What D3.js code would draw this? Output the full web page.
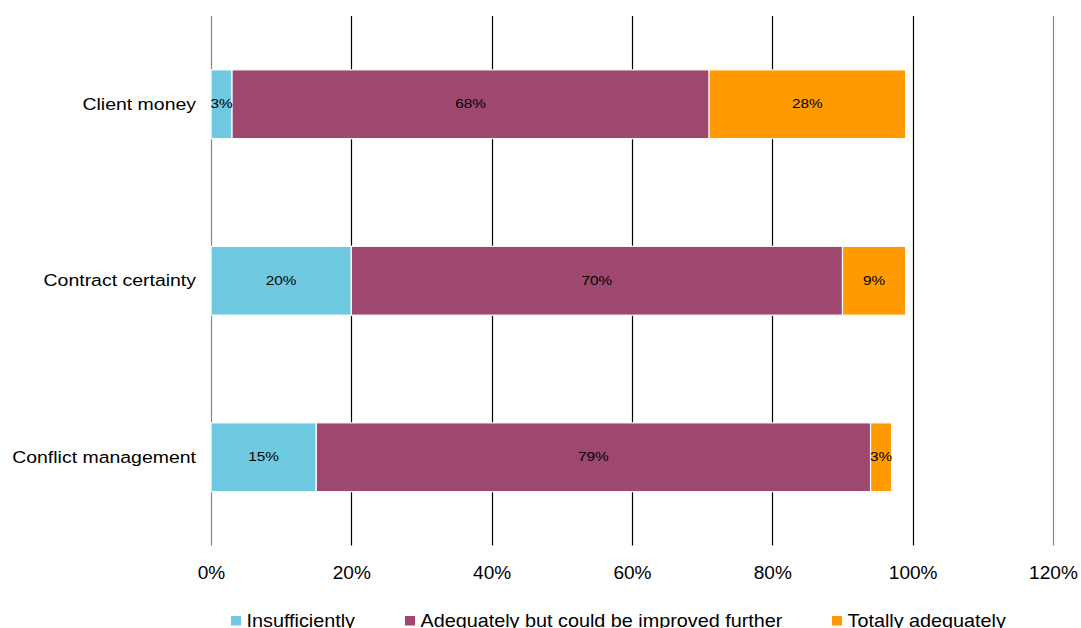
<!DOCTYPE html>
<html>
<head>
<meta charset="utf-8">
<script src="https://cdn.jsdelivr.net/npm/d3@7"></script>
<style>
  html, body { margin: 0; padding: 0; background: #fff; }
  svg { display: block; font-family: "Liberation Sans", Arial, sans-serif; }
</style>
</head>
<body>
<svg id="chart" width="1081" height="628"></svg>
<script>
// Survey categories (top to bottom) and the share of answers per rating
const categories = ["Client money", "Contract certainty", "Conflict management"];
const seriesNames = ["Insufficiently", "Adequately but could be improved further", "Totally adequately"];
const insufficiently = [3, 20, 15];
const adequately = [68, 70, 79];
const totally = [28, 9, 3];
const tickValues = [0, 20, 40, 60, 80, 100, 120];
const colors = ["#6FC9E0", "#9E486F", "#FF9A00"];

const svg = d3.select("#chart");

const x = d3.scaleLinear().domain([0, 120]).range([211, 1053]);
const y = d3.scaleBand().domain(categories).range([16, 545.5])
  .paddingInner(0.61).paddingOuter(0.305);

// Text in this chart is drawn slightly wide; stretch horizontally about its anchor
function widen(sel, k) {
  sel.each(function () {
    const t = d3.select(this);
    const tx = +t.attr("x") || 0, ty = +t.attr("y") || 0;
    t.attr("x", 0).attr("y", 0)
      .attr("transform", `translate(${tx},${ty}) scale(${k},1)`);
  });
}

// Vertical gridlines at each tick
svg.append("g").selectAll("line").data(tickValues).join("line")
  .attr("x1", d => Math.round(x(d)) + 0.5).attr("x2", d => Math.round(x(d)) + 0.5)
  .attr("y1", 16).attr("y2", 545.5)
  .attr("stroke", d => (d === 0 || d === 120) ? "#888" : "#000")
  .attr("stroke-width", 1.2);

// Tick labels along the bottom
const xAxis = d3.axisBottom(x).tickValues(tickValues).tickFormat(d => d + "%").tickSize(0).tickPadding(0);
const ax = svg.append("g").attr("transform", "translate(0,579)").call(xAxis);
ax.select(".domain").remove();
ax.selectAll("text").attr("font-size", 18).attr("fill", "#000")
  .attr("font-family", "Liberation Sans, Arial, sans-serif")
  .attr("dy", null).attr("y", 0);
widen(ax.selectAll("text"), 1.06);

// Category labels
const yAxis = d3.axisLeft(y).tickSize(0).tickPadding(0);
const ay = svg.append("g").attr("transform", "translate(196,0)").call(yAxis);
ay.select(".domain").remove();
ay.selectAll("text").attr("font-size", 16.5).attr("fill", "#000")
  .attr("font-family", "Liberation Sans, Arial, sans-serif")
  .attr("dy", "0.34em");
widen(ay.selectAll("text"), 1.18);

// Stacked bars
const rows = categories.map((c, i) => ({ cat: c, v: [insufficiently[i], adequately[i], totally[i]] }));
const segs = [];
rows.forEach(r => {
  let acc = 0;
  r.v.forEach((v, k) => { segs.push({ cat: r.cat, k, x0: acc, x1: acc + v, v }); acc += v; });
});

const bars = svg.append("g");
bars.selectAll("rect").data(segs).join("rect")
  .attr("x", d => x(d.x0))
  .attr("width", d => x(d.x1) - x(d.x0))
  .attr("y", d => y(d.cat))
  .attr("height", y.bandwidth())
  .attr("fill", d => colors[d.k])
  .attr("stroke", "#fff").attr("stroke-width", 1.2);

const vl = bars.selectAll("text").data(segs).join("text")
  .attr("x", d => (x(d.x0) + x(d.x1)) / 2)
  .attr("y", d => y(d.cat) + y.bandwidth() / 2 + 4.2)
  .attr("text-anchor", "middle")
  .attr("font-size", 12).attr("fill", "#000")
  .text(d => d.v + "%");
widen(vl, 1.28);

// Legend
const legendX = [231, 405, 832];
const lg = svg.append("g").selectAll("g").data(seriesNames).join("g")
  .attr("transform", (d, i) => `translate(${legendX[i]},0)`);
lg.append("rect").attr("x", 0).attr("y", 616).attr("width", 10).attr("height", 9.5)
  .attr("fill", (d, i) => colors[i]);
const lt = lg.append("text").attr("x", 15.5).attr("y", 627).attr("font-size", 18).attr("fill", "#000")
  .text(d => d);
widen(lt, 1.10);
</script>
</body>
</html>
